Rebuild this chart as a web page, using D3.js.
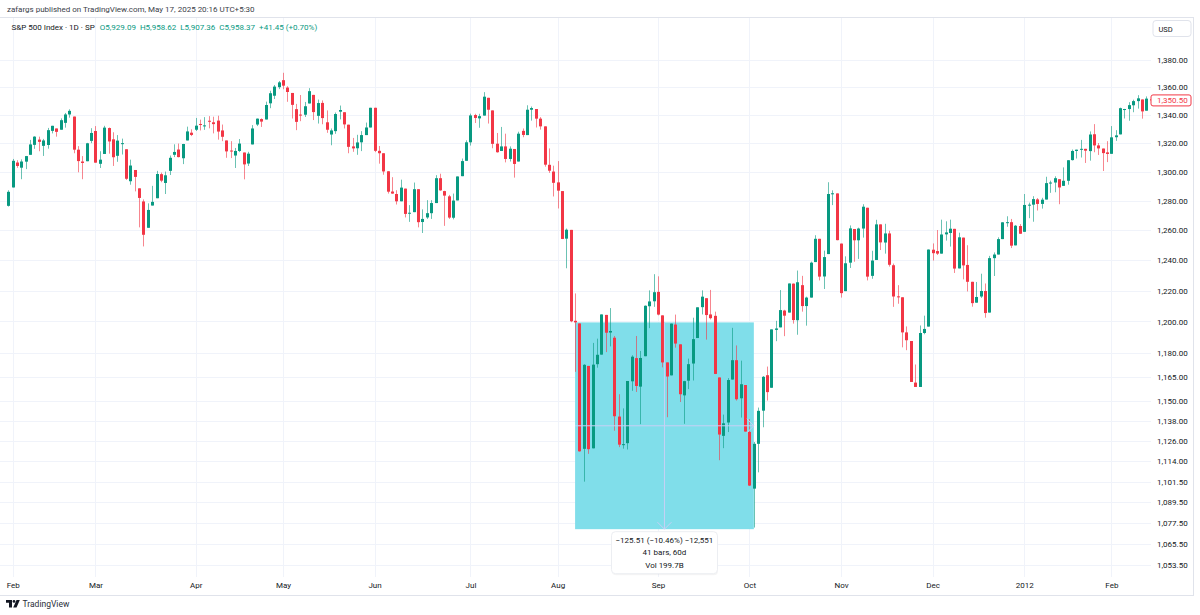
<!DOCTYPE html>
<html><head><meta charset="utf-8">
<script src="https://cdn.jsdelivr.net/npm/d3@7"></script>
<style>
html,body{margin:0;padding:0;background:#fff;}
svg{display:block;font-family:Roboto,"Noto Sans",sans-serif;}
</style></head><body>
<svg id="chart" width="1200" height="615"></svg>
<script>
// ---------- DATA ----------
const dates = [
"2011-01-31",
"2011-02-01","2011-02-02","2011-02-03","2011-02-04","2011-02-07","2011-02-08","2011-02-09","2011-02-10","2011-02-11","2011-02-14","2011-02-15","2011-02-16","2011-02-17","2011-02-18","2011-02-22","2011-02-23","2011-02-24","2011-02-25","2011-02-28",
"2011-03-01","2011-03-02","2011-03-03","2011-03-04","2011-03-07","2011-03-08","2011-03-09","2011-03-10","2011-03-11","2011-03-14","2011-03-15","2011-03-16","2011-03-17","2011-03-18","2011-03-21","2011-03-22","2011-03-23","2011-03-24","2011-03-25","2011-03-28","2011-03-29","2011-03-30","2011-03-31",
"2011-04-01","2011-04-04","2011-04-05","2011-04-06","2011-04-07","2011-04-08","2011-04-11","2011-04-12","2011-04-13","2011-04-14","2011-04-15","2011-04-18","2011-04-19","2011-04-20","2011-04-21","2011-04-25","2011-04-26","2011-04-27","2011-04-28","2011-04-29",
"2011-05-02","2011-05-03","2011-05-04","2011-05-05","2011-05-06","2011-05-09","2011-05-10","2011-05-11","2011-05-12","2011-05-13","2011-05-16","2011-05-17","2011-05-18","2011-05-19","2011-05-20","2011-05-23","2011-05-24","2011-05-25","2011-05-26","2011-05-27","2011-05-31",
"2011-06-01","2011-06-02","2011-06-03","2011-06-06","2011-06-07","2011-06-08","2011-06-09","2011-06-10","2011-06-13","2011-06-14","2011-06-15","2011-06-16","2011-06-17","2011-06-20","2011-06-21","2011-06-22","2011-06-23","2011-06-24","2011-06-27","2011-06-28","2011-06-29","2011-06-30",
"2011-07-01","2011-07-05","2011-07-06","2011-07-07","2011-07-08","2011-07-11","2011-07-12","2011-07-13","2011-07-14","2011-07-15","2011-07-18","2011-07-19","2011-07-20","2011-07-21","2011-07-22","2011-07-25","2011-07-26","2011-07-27","2011-07-28","2011-07-29",
"2011-08-01","2011-08-02","2011-08-03","2011-08-04","2011-08-05","2011-08-08","2011-08-09","2011-08-10","2011-08-11","2011-08-12","2011-08-15","2011-08-16","2011-08-17","2011-08-18","2011-08-19","2011-08-22","2011-08-23","2011-08-24","2011-08-25","2011-08-26","2011-08-29","2011-08-30","2011-08-31",
"2011-09-01","2011-09-02","2011-09-06","2011-09-07","2011-09-08","2011-09-09","2011-09-12","2011-09-13","2011-09-14","2011-09-15","2011-09-16","2011-09-19","2011-09-20","2011-09-21","2011-09-22","2011-09-23","2011-09-26","2011-09-27","2011-09-28","2011-09-29","2011-09-30",
"2011-10-03","2011-10-04","2011-10-05","2011-10-06","2011-10-07","2011-10-10","2011-10-11","2011-10-12","2011-10-13","2011-10-14","2011-10-17","2011-10-18","2011-10-19","2011-10-20","2011-10-21","2011-10-24","2011-10-25","2011-10-26","2011-10-27","2011-10-28","2011-10-31",
"2011-11-01","2011-11-02","2011-11-03","2011-11-04","2011-11-07","2011-11-08","2011-11-09","2011-11-10","2011-11-11","2011-11-14","2011-11-15","2011-11-16","2011-11-17","2011-11-18","2011-11-21","2011-11-22","2011-11-23","2011-11-25","2011-11-28","2011-11-29","2011-11-30",
"2011-12-01","2011-12-02","2011-12-05","2011-12-06","2011-12-07","2011-12-08","2011-12-09","2011-12-12","2011-12-13","2011-12-14","2011-12-15","2011-12-16","2011-12-19","2011-12-20","2011-12-21","2011-12-22","2011-12-23","2011-12-27","2011-12-28","2011-12-29","2011-12-30",
"2012-01-03","2012-01-04","2012-01-05","2012-01-06","2012-01-09","2012-01-10","2012-01-11","2012-01-12","2012-01-13","2012-01-17","2012-01-18","2012-01-19","2012-01-20","2012-01-23","2012-01-24","2012-01-25","2012-01-26","2012-01-27","2012-01-30","2012-01-31",
"2012-02-01","2012-02-02","2012-02-03","2012-02-06","2012-02-07","2012-02-08","2012-02-09","2012-02-10","2012-02-13","2012-02-14"
];
const open = [
1276.5,
1289.1,1306.4,1302.8,1307.0,1311.8,1318.8,1322.5,1318.1,1318.7,1328.7,1330.4,1329.5,1334.4,1340.4,1338.9,1315.4,1307.1,1307.3,1321.6,
1328.6,1305.5,1312.4,1330.7,1322.7,1311.1,1319.9,1315.7,1293.4,1301.2,1288.5,1279.5,1261.6,1276.7,1281.7,1298.3,1292.2,1300.6,1311.8,1315.5,1309.4,1321.9,1327.4,
1329.5,1333.6,1332.0,1335.9,1334.8,1336.0,1329.0,1321.9,1314.8,1311.3,1314.5,1313.4,1305.7,1319.1,1333.2,1337.1,1336.8,1348.4,1353.9,1360.1,
1365.2,1359.8,1355.9,1344.2,1340.3,1340.2,1348.3,1354.5,1339.4,1348.7,1334.8,1326.1,1328.5,1342.4,1342.0,1333.1,1317.7,1316.4,1320.6,1325.7,1331.1,
1345.2,1314.6,1312.9,1300.3,1286.3,1284.6,1279.6,1288.3,1271.6,1272.2,1287.9,1265.5,1268.6,1271.5,1278.4,1295.5,1286.6,1283.0,1268.4,1280.2,1296.9,1307.6,
1320.6,1340.0,1337.6,1339.6,1352.4,1343.3,1319.6,1314.5,1317.7,1308.9,1315.9,1307.1,1328.7,1325.7,1343.8,1344.3,1337.4,1331.9,1304.8,1300.1,
1292.6,1286.6,1254.3,1260.2,1200.4,1198.7,1121.0,1171.8,1121.3,1172.9,1178.9,1204.2,1192.9,1189.6,1140.5,1123.6,1124.4,1162.2,1176.7,1158.9,1177.9,1209.8,1213.0,
1219.1,1203.9,1174.0,1165.9,1198.0,1185.4,1153.5,1162.6,1173.3,1189.4,1209.2,1215.0,1204.5,1203.6,1164.6,1128.8,1136.9,1163.3,1175.4,1151.7,1159.9,
1131.2,1097.4,1124.0,1144.1,1166.0,1158.2,1194.6,1196.2,1207.0,1205.7,1224.5,1200.8,1223.5,1209.9,1215.4,1238.7,1254.2,1229.2,1244.0,1284.4,1285.0,
1251.0,1219.6,1238.3,1260.8,1253.2,1261.1,1275.2,1229.6,1240.1,1263.9,1251.7,1257.8,1236.6,1216.2,1215.6,1193.0,1187.5,1161.4,1158.7,1192.6,1196.7,
1246.9,1246.0,1244.3,1257.2,1258.1,1260.9,1234.5,1255.0,1236.8,1225.7,1212.1,1216.1,1219.7,1205.7,1241.3,1243.7,1254.0,1265.0,1265.4,1249.8,1262.8,
1258.9,1277.0,1277.3,1280.9,1277.8,1280.8,1292.0,1292.5,1294.8,1290.2,1293.7,1308.1,1314.5,1315.3,1316.0,1314.4,1326.3,1318.4,1316.2,1313.5,
1312.5,1324.2,1326.2,1344.3,1344.3,1347.0,1350.0,1351.2,1343.1,1351.3
];
const high = [
1287.2,
1308.9,1308.0,1308.6,1311.0,1322.3,1324.9,1324.6,1323.0,1330.8,1332.3,1330.4,1337.6,1341.5,1344.1,1338.9,1317.9,1310.9,1320.2,1330.6,
1332.1,1314.3,1332.3,1331.1,1327.7,1325.7,1323.2,1315.7,1308.4,1301.2,1288.5,1280.9,1278.2,1290.2,1300.6,1299.4,1300.1,1311.3,1319.2,1319.7,1319.5,1331.7,1329.8,
1337.9,1336.7,1338.5,1339.2,1338.8,1339.5,1333.2,1321.9,1321.4,1316.6,1322.9,1313.4,1313.9,1332.8,1337.5,1337.6,1349.6,1357.5,1361.7,1364.6,
1370.6,1360.8,1355.9,1348.0,1354.4,1349.4,1359.4,1354.5,1351.1,1350.5,1343.3,1330.4,1341.8,1346.8,1342.0,1333.1,1323.7,1325.9,1328.5,1334.6,1345.2,
1345.2,1318.0,1312.9,1300.4,1296.2,1287.2,1294.5,1288.3,1277.0,1292.5,1287.9,1274.1,1280.4,1280.4,1297.6,1298.6,1286.8,1284.0,1284.9,1296.7,1309.2,1322.0,
1341.0,1340.9,1340.9,1356.5,1352.4,1343.3,1327.2,1331.5,1326.7,1317.7,1315.9,1328.1,1330.4,1347.0,1346.1,1344.3,1338.5,1331.9,1316.3,1304.2,
1307.4,1286.6,1261.1,1260.2,1218.1,1198.7,1172.9,1171.8,1186.3,1189.0,1204.5,1204.2,1208.6,1190.7,1154.2,1145.5,1162.4,1178.5,1190.7,1181.2,1210.3,1220.1,1230.7,
1229.3,1203.9,1174.0,1198.6,1204.4,1185.4,1162.5,1176.4,1202.4,1209.1,1220.1,1215.0,1220.4,1206.3,1164.6,1141.7,1164.2,1195.9,1184.7,1175.1,1159.9,
1139.0,1125.1,1146.0,1165.5,1171.4,1194.9,1200.4,1220.3,1207.5,1224.6,1224.6,1233.1,1229.6,1216.0,1239.0,1256.6,1254.2,1246.3,1292.7,1287.1,1285.0,
1251.0,1242.5,1263.2,1260.8,1261.7,1277.6,1275.2,1246.2,1267.0,1263.9,1264.3,1259.6,1237.7,1223.5,1215.6,1196.8,1187.5,1172.7,1197.4,1203.7,1247.1,
1251.1,1260.1,1267.1,1266.0,1267.1,1260.9,1258.3,1255.0,1249.9,1225.7,1225.6,1231.0,1224.6,1242.8,1245.1,1255.2,1265.4,1269.4,1267.6,1263.5,1264.1,
1284.6,1278.7,1283.1,1281.8,1282.0,1296.5,1293.8,1296.8,1294.8,1303.0,1308.1,1315.5,1315.4,1322.3,1316.0,1328.3,1333.5,1320.1,1316.2,1321.4,
1332.1,1329.2,1345.3,1344.4,1349.2,1351.0,1354.3,1351.2,1353.4,1351.3
];
const low = [
1276.0,
1289.1,1302.7,1294.8,1301.8,1311.8,1316.0,1314.3,1311.0,1316.1,1326.9,1324.6,1329.5,1331.0,1338.1,1312.9,1299.6,1294.8,1307.3,1320.0,
1306.3,1302.6,1312.4,1312.6,1304.0,1306.9,1312.0,1294.3,1291.0,1286.4,1261.9,1249.1,1261.6,1276.7,1281.7,1292.7,1284.6,1297.7,1310.2,1310.0,1305.3,1321.9,1325.0,
1328.6,1329.0,1329.4,1330.5,1326.9,1322.5,1321.4,1309.7,1309.5,1302.6,1313.7,1294.7,1304.0,1319.1,1332.1,1331.5,1336.8,1344.9,1351.5,1358.7,
1358.6,1349.5,1337.5,1329.2,1335.6,1338.6,1348.3,1336.4,1333.9,1333.4,1327.3,1318.5,1326.6,1336.9,1330.4,1312.9,1313.9,1311.8,1314.4,1325.7,1331.1,
1313.7,1305.6,1297.9,1284.9,1284.7,1277.4,1279.6,1268.6,1265.6,1272.2,1261.9,1258.1,1267.6,1267.6,1278.4,1286.8,1262.9,1267.6,1267.3,1280.2,1296.9,1307.6,
1318.3,1334.3,1330.9,1339.6,1333.9,1316.4,1313.3,1314.5,1306.5,1307.1,1295.9,1307.1,1324.2,1325.7,1336.0,1331.1,1329.6,1303.5,1299.2,1282.9,
1274.7,1254.0,1234.6,1199.5,1168.1,1119.3,1101.5,1118.0,1121.3,1170.7,1178.9,1180.5,1184.1,1131.9,1122.0,1121.1,1120.6,1156.3,1155.6,1135.9,1177.9,1195.7,1209.4,
1203.9,1170.9,1140.1,1165.9,1183.3,1149.4,1136.1,1157.4,1162.7,1189.4,1204.5,1188.4,1201.3,1166.7,1114.2,1121.4,1131.1,1163.3,1150.3,1139.9,1131.3,
1098.9,1074.8,1107.0,1134.0,1150.3,1158.2,1187.4,1196.2,1190.6,1205.7,1198.6,1191.5,1206.3,1197.3,1215.4,1238.7,1226.6,1221.0,1244.0,1277.0,1253.2,
1215.4,1219.6,1234.8,1238.9,1240.8,1255.0,1226.6,1227.7,1240.1,1246.7,1244.3,1235.7,1209.4,1211.4,1183.5,1181.7,1161.8,1158.7,1158.7,1191.8,1196.7,
1239.7,1243.4,1244.3,1253.0,1249.0,1231.5,1234.5,1227.3,1219.4,1209.5,1212.1,1215.2,1202.4,1205.7,1229.5,1243.7,1254.0,1262.3,1248.0,1249.8,1257.5,
1258.9,1268.1,1265.7,1273.3,1274.6,1280.8,1285.4,1285.8,1277.6,1290.2,1291.0,1307.8,1309.2,1309.9,1306.1,1307.7,1313.6,1311.7,1300.5,1306.7,
1312.5,1321.6,1326.2,1337.5,1335.9,1342.0,1344.6,1337.4,1343.1,1340.8
];
const close = [
1286.1,
1307.6,1304.0,1307.1,1310.9,1319.1,1324.6,1320.9,1321.9,1329.2,1332.3,1328.0,1336.3,1340.4,1343.0,1315.4,1307.4,1306.1,1319.9,1327.2,
1306.3,1308.4,1331.0,1321.2,1310.1,1321.8,1320.0,1295.1,1304.3,1296.4,1281.9,1256.9,1273.7,1279.2,1298.4,1293.8,1297.5,1309.7,1313.8,1310.2,1319.4,1328.3,1325.8,
1332.4,1332.9,1332.6,1335.5,1333.5,1328.2,1324.5,1314.2,1314.4,1314.5,1319.7,1305.1,1312.6,1330.4,1337.4,1335.3,1347.2,1355.7,1360.5,1363.6,
1361.2,1356.6,1347.3,1335.1,1340.2,1346.3,1357.2,1342.1,1348.6,1337.8,1329.5,1329.0,1340.7,1343.6,1333.3,1317.4,1316.3,1320.5,1325.7,1331.1,1345.2,
1314.6,1312.9,1300.2,1286.2,1284.9,1279.6,1289.0,1271.0,1271.8,1287.9,1265.4,1267.6,1271.5,1278.4,1295.5,1287.1,1283.5,1268.5,1280.1,1296.7,1307.4,1320.6,
1339.7,1337.9,1339.2,1353.2,1343.8,1319.5,1313.6,1317.7,1308.9,1316.1,1305.4,1326.7,1325.8,1343.8,1345.0,1337.4,1331.9,1304.9,1300.7,1292.3,
1286.9,1254.1,1260.3,1200.1,1199.4,1119.5,1172.5,1120.8,1172.6,1178.8,1204.5,1192.8,1193.9,1140.7,1123.5,1123.8,1162.4,1177.6,1159.3,1176.8,1210.1,1212.9,1218.9,
1204.4,1174.0,1165.2,1198.6,1185.9,1154.2,1162.3,1172.9,1188.7,1209.1,1216.0,1204.1,1202.1,1166.8,1129.6,1136.4,1163.0,1175.4,1151.1,1160.4,1131.4,
1099.2,1124.0,1144.0,1165.0,1155.5,1194.9,1195.5,1207.3,1203.7,1224.6,1200.9,1225.4,1209.9,1215.4,1238.3,1254.2,1229.1,1242.0,1284.6,1285.1,1253.3,
1218.3,1237.9,1261.2,1253.2,1261.1,1275.9,1229.1,1239.7,1263.9,1251.8,1257.8,1236.9,1216.1,1215.7,1193.0,1188.0,1161.8,1158.7,1192.6,1195.2,1247.0,
1244.6,1244.3,1257.1,1258.5,1261.0,1234.4,1255.2,1236.5,1225.7,1211.8,1215.8,1219.7,1205.4,1241.3,1243.7,1254.0,1265.3,1265.4,1249.6,1263.0,1257.6,
1277.1,1277.3,1281.1,1277.8,1280.7,1292.1,1292.5,1295.5,1289.1,1293.7,1308.0,1314.5,1315.4,1316.0,1314.7,1326.1,1318.4,1316.3,1313.0,1312.4,
1324.1,1325.5,1344.9,1344.3,1347.1,1350.0,1352.0,1342.6,1351.8,1350.5
];
const priceTicks = [1380,1360,1340,1320,1300,1280,1260,1240,1220,1200,1180,1165,1150,1138,1126,1114,1101.5,1089.5,1077.5,1065.5,1053.5];
const monthTicks = ["2011-02-01","2011-03-01","2011-04-01","2011-05-02","2011-06-01","2011-07-01","2011-08-01","2011-09-01","2011-10-03","2011-11-01","2011-12-01","2012-01-03","2012-02-01"];
const monthLabels = ["Feb","Mar","Apr","May","Jun","Jul","Aug","Sep","Oct","Nov","Dec","2012","Feb"];
const headerText = "zafargs published on TradingView.com, May 17, 2025 20:16 UTC+5:30";
const legendTitle = "S&P 500 Index · 1D · SP";
const legendValues = ["O5,929.09","H5,958.62","L5,907.36","C5,958.37","+41.45 (+0.70%)"];
const measureStart = "2011-08-05", measureEnd = "2011-10-04";
const measureFrom = 1199.38, measureChange = -125.51;
const measureLines = ["\u2212125.51 (\u221210.46%) \u221212,551","41 bars, 60d","Vol 199.7B"];
const lastPrice = 1350.50;

// ---------- CHART ----------
const svg = d3.select("#chart");
const up = "#089981", dn = "#f23645", txt = "#131722", gridC = "#f0f3fa", borderC = "#e0e3eb";
const plotR = 1151, plotT = 17, plotB = 577;

const x = d3.scalePoint().domain(dates).range([8.3, 1150.6]);
const y = d3.scaleLog().domain([1053.5, 1380]).range([565, 60]);

svg.append("rect").attr("width",1200).attr("height",615).attr("fill","#fff");

// grid
const grid = svg.append("g");
grid.selectAll("line.h").data(priceTicks).join("line").attr("class","h")
  .attr("x1",0).attr("x2",plotR).attr("y1",d=>Math.round(y(d))+0.5).attr("y2",d=>Math.round(y(d))+0.5)
  .attr("stroke",gridC);
grid.selectAll("line.v").data(monthTicks).join("line").attr("class","v")
  .attr("x1",d=>Math.round(x(d))+0.5).attr("x2",d=>Math.round(x(d))+0.5).attr("y1",plotT).attr("y2",plotB)
  .attr("stroke",gridC);

// frame
svg.append("line").attr("x1",0).attr("x2",1194).attr("y1",17.5).attr("y2",17.5).attr("stroke",borderC);
svg.append("line").attr("x1",1193.5).attr("x2",1193.5).attr("y1",17).attr("y2",596).attr("stroke",borderC);
svg.append("line").attr("x1",0).attr("x2",1194).attr("y1",595.5).attr("y2",595.5).attr("stroke",borderC);

// clip
svg.append("clipPath").attr("id","plotclip").append("rect").attr("x",0).attr("y",plotT+1).attr("width",plotR).attr("height",plotB-plotT-1);
const plot = svg.append("g").attr("clip-path","url(#plotclip)");

// measurement box (behind candles)
const mx0 = x(measureStart), mx1 = x(measureEnd);
const myTop = y(measureFrom), myBot = y(measureFrom + measureChange);
plot.append("rect").attr("x",mx0).attr("y",myTop).attr("width",mx1-mx0).attr("height",myBot-myTop)
  .attr("fill","#80deea");

// candles
const bars = dates.map((d,i)=>({d,o:open[i],h:high[i],l:low[i],c:close[i]}));
const cg = plot.append("g");
cg.selectAll("line.wick").data(bars).join("line").attr("class","wick")
  .attr("x1",b=>Math.round(x(b.d))+0.5).attr("x2",b=>Math.round(x(b.d))+0.5)
  .attr("y1",b=>y(b.h)).attr("y2",b=>y(b.l))
  .attr("stroke",b=>b.c>=b.o?up:dn).attr("stroke-opacity",0.6);
cg.selectAll("rect.body").data(bars).join("rect").attr("class","body")
  .attr("x",b=>Math.round(x(b.d))-1).attr("width",3)
  .attr("y",b=>y(Math.max(b.o,b.c)))
  .attr("height",b=>Math.max(1, y(Math.min(b.o,b.c))-y(Math.max(b.o,b.c))))
  .attr("fill",b=>b.c>=b.o?up:dn);

// measurement arrows
const mxc = (mx0+mx1)/2, myc = (myTop+myBot)/2, lc = "#c7d0f5";
plot.append("line").attr("x1",mxc).attr("x2",mxc).attr("y1",myTop).attr("y2",myBot).attr("stroke",lc);
plot.append("line").attr("x1",mx0).attr("x2",mx1).attr("y1",myc).attr("y2",myc).attr("stroke",lc);
plot.append("path").attr("d",`M${mxc-7},${myBot-7}L${mxc},${myBot}L${mxc+7},${myBot-7}`).attr("fill","none").attr("stroke",lc);
plot.append("path").attr("d",`M${mx1-7},${myc-7}L${mx1},${myc}L${mx1-7},${myc+7}`).attr("fill","none").attr("stroke",lc);

// measurement label
const lbW = 106, lbH = 42, lbX = mxc-lbW/2, lbY = myBot+2.5;
svg.append("rect").attr("x",lbX+0.5).attr("y",lbY+1.5).attr("width",lbW).attr("height",lbH).attr("rx",4).attr("fill","#000").attr("opacity",0.04);
svg.append("rect").attr("x",lbX).attr("y",lbY).attr("width",lbW).attr("height",lbH).attr("rx",4)
  .attr("fill","#fff").attr("stroke","#eceef2");
svg.selectAll("text.ml").data(measureLines).join("text").attr("class","ml")
  .attr("x",mxc).attr("y",(d,i)=>lbY+11+i*12.7).attr("text-anchor","middle").attr("font-size",8).attr("fill",txt)
  .text(d=>d);

// price axis
const ya = svg.append("g").attr("transform","translate(1157,0)")
  .call(d3.axisRight(y).tickValues(priceTicks).tickSize(0).tickPadding(0).tickFormat(d3.format(",.2f")));
ya.select(".domain").remove();
ya.selectAll("text").attr("font-size",8).attr("fill",txt).attr("font-family","Roboto,'Noto Sans',sans-serif");

// time axis
const xa = svg.append("g").attr("transform","translate(0,578)")
  .call(d3.axisBottom(x).tickValues(monthTicks).tickSize(0).tickPadding(4).tickFormat((d,i)=>monthLabels[i]));
xa.select(".domain").remove();
xa.selectAll("text").attr("font-size",8).attr("fill",txt).attr("font-family","Roboto,'Noto Sans',sans-serif");

// USD box
svg.append("rect").attr("x",1153).attr("y",20.5).attr("width",38).attr("height",16).attr("rx",3).attr("fill","#fff").attr("stroke",borderC);
svg.append("text").attr("x",1158.5).attr("y",31.5).attr("font-size",7.5).attr("fill",txt).text("USD");

// last price tag
const ly = y(lastPrice);
svg.append("rect").attr("x",1151).attr("y",ly-5.5).attr("width",40).attr("height",11).attr("rx",2)
  .attr("fill","#fff").attr("stroke",dn);
svg.append("text").attr("x",1157).attr("y",ly+3).attr("font-size",8).attr("fill",dn).text(d3.format(",.2f")(lastPrice));

// header
svg.append("text").attr("x",7).attr("y",12).attr("font-size",8).attr("fill","#3a3e48").text(headerText);

// legend
const lg = svg.append("text").attr("x",11.5).attr("y",29.5).attr("font-size",8);
lg.append("tspan").attr("fill",txt).text(legendTitle);
legendValues.forEach((v,i)=>{ lg.append("tspan").attr("dx",i===0?5:4).attr("fill",up).text(v); });

// footer logo
const logo = svg.append("g").attr("fill","#131722");
logo.append("path").attr("d","M6,600 h6 v7.5 h-3 v-4.8 h-3 z");
logo.append("circle").attr("cx",14).attr("cy",601.4).attr("r",1.4);
logo.append("path").attr("d","M16.5,600 h3.3 l-3.3,7.5 h-3.3 z");
svg.append("text").attr("x",22.5).attr("y",606.5).attr("font-size",8.5).attr("fill","#2a2e39").text("TradingView");
</script>
</body></html>
